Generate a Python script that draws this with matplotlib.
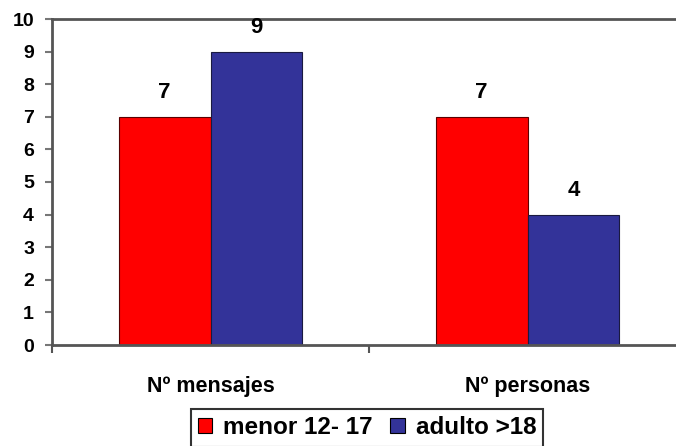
import matplotlib.pyplot as plt
import numpy as np

plt.rcParams['font.family'] = ['Liberation Sans', 'DejaVu Sans']
plt.rcParams['font.weight'] = 'bold'

groups = ["Nº mensajes", "Nº personas"]
menor = [7, 7]
adulto = [9, 4]
series_names = ["menor 12- 17", "adulto >18"]

fig = plt.figure(figsize=(6.76, 4.46), dpi=100)
ax = fig.add_axes([52/676, 101/446, 634/676, 326/446])

x = np.arange(len(groups))
w = 0.29
b1 = ax.bar(x - w/2, menor, w, color='#FF0000', edgecolor='#5a0000', linewidth=0.8, label=series_names[0])
b2 = ax.bar(x + w/2, adulto, w, color='#333399', edgecolor='#1a1a40', linewidth=0.8, label=series_names[1])

for bars in (b1, b2):
    for r in bars:
        ax.text(r.get_x() + r.get_width()/2, r.get_height() + 0.42, str(int(r.get_height())),
                ha='center', va='bottom', fontsize=16, fontweight='bold')

ax.set_xlim(-0.5, 1.5)
ax.set_ylim(0, 10)
ax.set_yticks(range(0, 11))
ax.axhline(10, color='#555555', linewidth=2, clip_on=False)

ax.set_xticks(x)
ax.set_xticklabels(groups, fontsize=15.5, fontweight='bold')
ax.tick_params(axis='x', length=0, pad=22)
ax.set_xticks([-0.5, 0.5, 1.5], minor=True)
ax.tick_params(axis='x', which='minor', length=6, width=1.5, color='#555555')
ax.tick_params(axis='y', length=5, width=1.5, color='#777777', labelsize=14, pad=8)
for lab in ax.get_yticklabels():
    lab.set_fontweight('bold')

for s in ['top', 'right']:
    ax.spines[s].set_visible(False)
for s in ['left', 'bottom']:
    ax.spines[s].set_color('#555555')
    ax.spines[s].set_linewidth(2)

leg = fig.legend(loc='upper center', bbox_to_anchor=(367/676, 37/446), ncol=2,
                 frameon=True, fancybox=False, edgecolor='black', handlelength=0.6,
                 handleheight=0.6, handletextpad=0.45, columnspacing=0.7,
                 borderpad=0.3, borderaxespad=0, prop={'weight': 'bold', 'size': 17.5})
leg.get_frame().set_linewidth(1.5)
for h in leg.legend_handles:
    h.set_edgecolor('black')

fig.savefig('out.png', dpi=100)
